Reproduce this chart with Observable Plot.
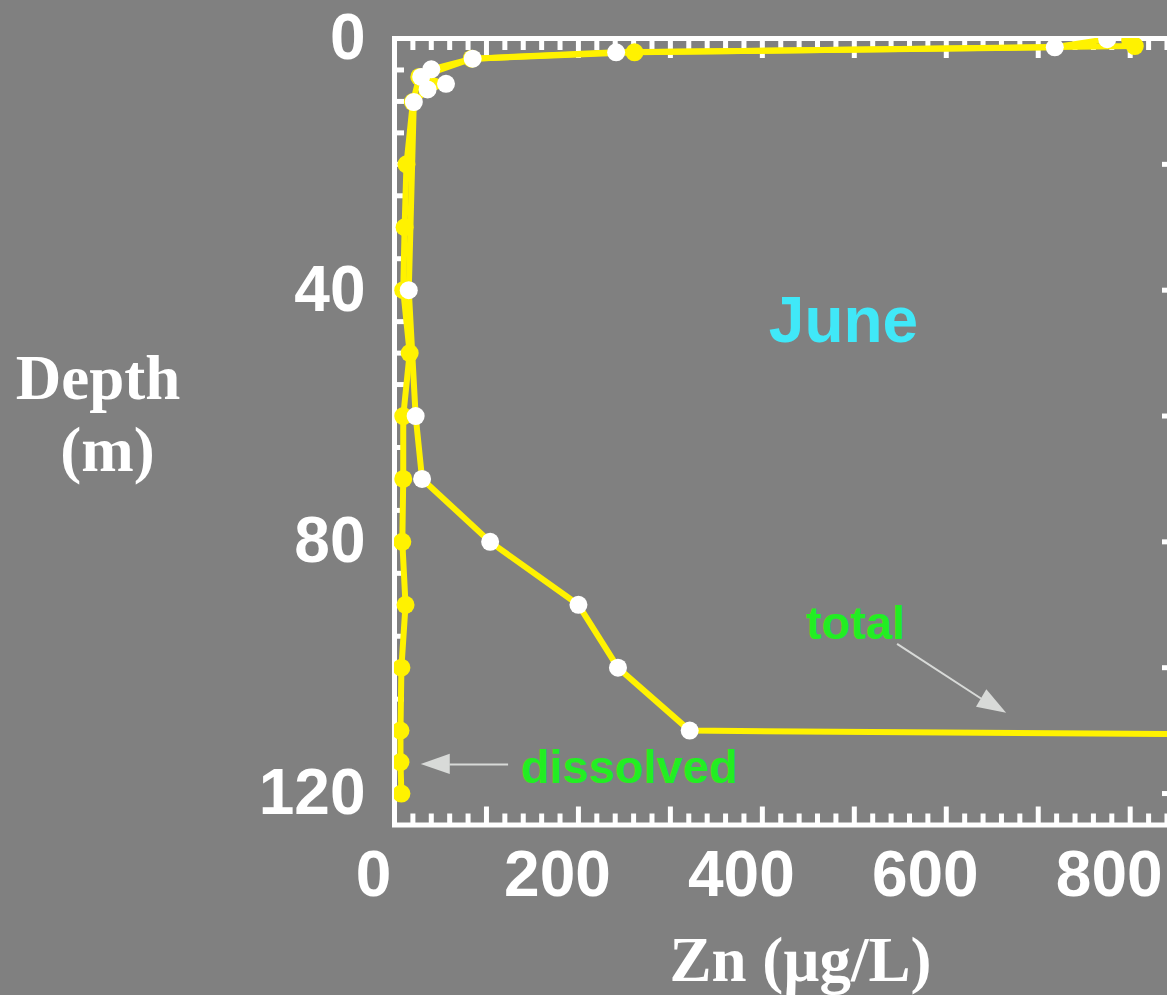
<!DOCTYPE html>
<html><head><meta charset="utf-8">
<script src="https://cdn.jsdelivr.net/npm/d3@7"></script>
<script src="https://cdn.jsdelivr.net/npm/@observablehq/plot@0.6"></script>
<style>
html,body{margin:0;padding:0;background:#808080;overflow:hidden;}
</style></head><body><div id="chart"></div>
<script>
// ---- data ----
const totalDepth = [0.1, 1.4, 2.2, 3.2, 4.9, 6.1, 7.2, 8.1, 10.1, 40, 60, 70, 80, 90, 100, 110, 120];
const totalZn    = [775, 718, 241, 85, 40, 29, 56, 36, 21, 15.5, 23, 30, 104, 200, 243, 321, 10000];
const dissolvedDepth = [0.3, 1.2, 2.2, 3.2, 6.1, 10.1, 20, 30, 40, 50, 60, 70, 80, 90, 100, 110, 115, 120];
const dissolvedZn    = [800, 805, 261, 84, 27, 20, 13, 11, 9.5, 16.5, 9.5, 9.5, 8.5, 12, 7.5, 6.5, 6.5, 7.5];
const xTickLabels = [0, 200, 400, 600, 800];
const yTickLabels = [0, 40, 80, 120];
const xMinorTicks = d3.range(20, 846, 20).filter(v => v % 100 !== 0);
const xMajorTicks = d3.range(100, 846, 100);
const yLeftTicks  = d3.range(5, 121, 5);
const yRightTicks = d3.range(20, 121, 20);

// annotations (data units)
const arrowLines = [
  {x1: 546.5, y1: 96.2, x2: 637.8, y2: 104.9},
  {x1: 123.5, y1: 115.4, x2: 59.7, y2: 115.4}
];
const arrowHeads = [
  {x: 651.5, y: 106.0, angle: 120.6},
  {x: 44.3, y: 115.3, angle: -90}
];

const total = totalDepth.map((d, i) => ({depth: d, zn: totalZn[i]}));
const dissolved = dissolvedDepth.map((d, i) => ({depth: d, zn: dissolvedZn[i]}));

const yellow = "#fff200";
const arrowGray = "#d8dad8";
const sans = "'Liberation Sans', Arial, Helvetica, sans-serif";
const serif = "'Liberation Serif', 'Times New Roman', Times, serif";

const triangle = {
  draw(ctx, size) {
    const r = Math.sqrt(size / Math.PI);
    ctx.moveTo(0, -r);
    ctx.lineTo(0.7 * r, r);
    ctx.lineTo(-0.7 * r, r);
    ctx.closePath();
  }
};

const tickStyle = {stroke: "white", strokeWidth: 5, tickFormat: () => "", label: null};

const chart = Plot.plot({
  width: 1172,
  height: 995,
  marginLeft: 394,
  marginRight: 0,
  marginTop: 38,
  marginBottom: 170.5,
  style: {background: "#808080", color: "white", fontFamily: sans, maxWidth: "none"},
  x: {domain: [0, 846], axis: null},
  y: {domain: [0, 125], reverse: true, axis: null},
  marks: [
    // inward ticks
    Plot.axisX(xMinorTicks, {anchor: "top", tickSize: 11, dy: 11, ...tickStyle}),
    Plot.axisX(xMajorTicks, {anchor: "top", tickSize: 19, dy: 19, ...tickStyle}),
    Plot.axisX(xMinorTicks, {anchor: "bottom", tickSize: 11, dy: -11, ...tickStyle}),
    Plot.axisX(xMajorTicks, {anchor: "bottom", tickSize: 18, dy: -18, ...tickStyle}),
    Plot.axisY(yLeftTicks, {anchor: "left", tickSize: 10, dx: 10, ...tickStyle}),
    Plot.axisY(yRightTicks, {anchor: "right", tickSize: 11, dx: -11, ...tickStyle}),
    Plot.frame({stroke: "white", strokeWidth: 5}),
    // tick labels
    Plot.axisX(xTickLabels, {anchor: "bottom", tickSize: 0, tickPadding: 26, dx: -21,
      fontSize: 64, fontWeight: "bold", fontFamily: sans, fill: "white", label: null}),
    Plot.axisY(yTickLabels, {anchor: "left", tickSize: 0, tickPadding: 29, dy: 0,
      fontSize: 64, fontWeight: "bold", fontFamily: sans, fill: "white", label: null}),
    // data
    Plot.line(dissolved, {x: "zn", y: "depth", stroke: yellow, strokeWidth: 6, strokeLinejoin: "round", clip: true}),
    Plot.line(total, {x: "zn", y: "depth", stroke: yellow, strokeWidth: 6, strokeLinejoin: "round", clip: true}),
    Plot.dot(dissolved, {x: "zn", y: "depth", r: 9, fill: yellow, stroke: null, clip: true}),
    Plot.dot(total, {x: "zn", y: "depth", r: 9, fill: "white", stroke: null, clip: true}),
    // annotations
    Plot.link(arrowLines, {x1: "x1", y1: "y1", x2: "x2", y2: "y2", stroke: arrowGray, strokeWidth: 2}),
    Plot.dot(arrowHeads, {x: "x", y: "y", rotate: "angle", symbol: triangle, r: 14.5, fill: arrowGray, stroke: null}),
    Plot.text(["June"], {text: d => d, frameAnchor: "top-left", dx: 449, dy: 303, lineAnchor: "bottom",
      textAnchor: "middle", fontSize: 64, fontWeight: "bold", fontFamily: sans, fill: "#40e8f8"}),
    Plot.text(["total"], {text: d => d, frameAnchor: "top-left", dx: 461, dy: 600, lineAnchor: "bottom",
      textAnchor: "middle", fontSize: 47, fontWeight: "bold", fontFamily: sans, fill: "#22ee22"}),
    Plot.text(["dissolved"], {text: d => d, frameAnchor: "top-left", dx: 234.7, dy: 744.5, lineAnchor: "bottom",
      textAnchor: "middle", fontSize: 47, fontWeight: "bold", fontFamily: sans, fill: "#22ee22"}),
    // axis titles
    Plot.text(["Depth"], {text: d => d, frameAnchor: "top-left", dx: -296.5, dy: 360, lineAnchor: "bottom",
      textAnchor: "middle", fontSize: 63, fontWeight: "bold", fontFamily: serif, fill: "white"}),
    Plot.text(["(m)"], {text: d => d, frameAnchor: "top-left", dx: -287, dy: 432, lineAnchor: "bottom",
      textAnchor: "middle", fontSize: 63, fontWeight: "bold", fontFamily: serif, fill: "white"}),
    Plot.text(["Zn (\u00b5g/L)"], {text: d => d, frameAnchor: "top-left", dx: 406, dy: 942, lineAnchor: "bottom",
      textAnchor: "middle", fontSize: 63, fontWeight: "bold", fontFamily: serif, fill: "white"})
  ]
});
document.getElementById("chart").appendChild(chart);
</script>
</body></html>
